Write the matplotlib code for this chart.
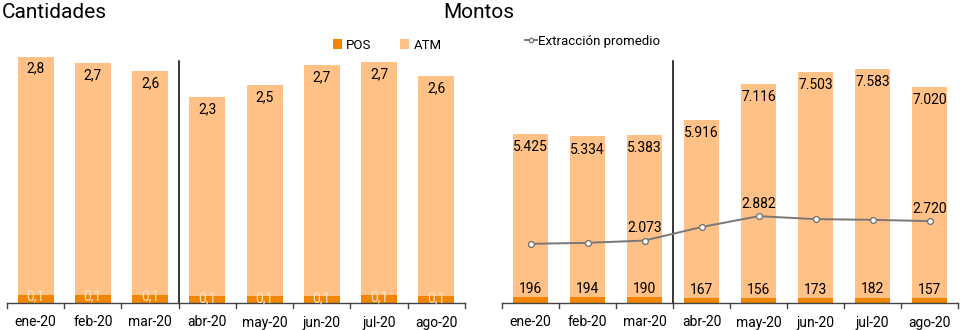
import matplotlib.pyplot as plt
import numpy as np

plt.rcParams['font.family'] = ['Roboto', 'DejaVu Sans']

# data
meses = ['ene-20', 'feb-20', 'mar-20', 'abr-20', 'may-20', 'jun-20', 'jul-20', 'ago-20']

# Cantidades (heights estimated, labels rounded)
cant_atm = [2.80, 2.72, 2.63, 2.34, 2.48, 2.72, 2.74, 2.59]
cant_pos = [0.10, 0.10, 0.10, 0.08, 0.08, 0.08, 0.09, 0.08]

# Montos
mont_atm = [5425, 5334, 5383, 5916, 7116, 7503, 7583, 7020]
mont_pos = [196, 194, 190, 167, 156, 173, 182, 157]
extraccion = [1965, 1998, 2073, 2522, 2882, 2784, 2761, 2720]
extraccion_lbl = [False, False, True, False, True, False, False, True]

C_ATM = '#FFC185'
C_POS = '#F28500'
FS = 10

fig = plt.figure(figsize=(9.66, 3.3), dpi=100)
W, H = 966, 330


def make_ax(x0, x1, y_top, y_base):
    return fig.add_axes([x0 / W, (H - y_base) / H, (x1 - x0) / W, (y_base - y_top) / H])


def style_ax(ax):
    for s in ['top', 'right', 'left']:
        ax.spines[s].set_visible(False)
    ax.spines['bottom'].set_color('#444444')
    ax.spines['bottom'].set_linewidth(1.0)
    ax.set_yticks([])
    ax.set_xlim(-0.5, len(meses) - 0.5)
    ax.set_xticks(np.arange(len(meses)))
    ax.set_xticklabels(meses, fontsize=FS)
    ax.tick_params(axis='x', length=0, pad=9)
    # small tick marks at category boundaries
    for b in np.arange(-0.5, len(meses), 1.0):
        ax.plot([b, b], [0, -0.018], transform=ax.get_xaxis_transform(),
                color='#444444', lw=1.0, clip_on=False)
    ax.axvline(2.5, ymin=0, ymax=0.92, color='black', lw=1.1)


x = np.arange(len(meses))
bw = 0.63

# ---------------- Cantidades ----------------
ax1 = make_ax(7, 465, 40, 303)
ax1.bar(x, cant_pos, bw, color=C_POS, label='POS', zorder=2)
ax1.bar(x, cant_atm, bw, bottom=cant_pos, color=C_ATM, label='ATM', zorder=2)
ax1.set_ylim(0, 263 / 85.0)
style_ax(ax1)
for i in range(len(meses)):
    top = cant_pos[i] + cant_atm[i]
    ax1.text(x[i], top - 0.06, f'{cant_atm[i]:.1f}'.replace('.', ','),
             ha='center', va='top', fontsize=FS, color='black', zorder=3)
    ax1.text(x[i], cant_pos[i] - 0.02, f'{cant_pos[i]:.1f}'.replace('.', ','),
             ha='center', va='center', fontsize=FS, color='#FFE3C4', zorder=3)
ax1.legend(loc='upper left', bbox_to_anchor=(0.685, 1.05), ncol=2, frameon=False,
           fontsize=FS - 0.5, handlelength=0.7, handleheight=0.7,
           handletextpad=0.3, columnspacing=2.2)

# ---------------- Montos ----------------
ax2 = make_ax(502, 958, 40, 303)
ax2.bar(x, mont_pos, bw, color=C_POS, zorder=2)
ax2.bar(x, mont_atm, bw, bottom=mont_pos, color=C_ATM, zorder=2)
ax2.plot(x, extraccion, color='#777777', lw=1.4, marker='o', ms=4.2,
         mfc='white', mec='#777777', mew=1.0, label='Extracción promedio', zorder=4)
ax2.set_ylim(0, 263 * 33.2)
style_ax(ax2)
for i in range(len(meses)):
    top = mont_pos[i] + mont_atm[i]
    ax2.text(x[i], top - 200, f'{mont_atm[i]:,}'.replace(',', '.'),
             ha='center', va='top', fontsize=FS, color='black', zorder=3)
    ax2.text(x[i], mont_pos[i] + 40, f'{mont_pos[i]}',
             ha='center', va='bottom', fontsize=FS, color='black', zorder=3)
    if extraccion_lbl[i]:
        ax2.text(x[i], extraccion[i] + 180, f'{extraccion[i]:,}'.replace(',', '.'),
                 ha='center', va='bottom', fontsize=FS, color='black', zorder=5)
ax2.legend(loc='upper left', bbox_to_anchor=(0.025, 1.065), frameon=False,
           fontsize=FS - 0.5, handlelength=0.9, handletextpad=0.1,
           markerscale=0.75)

fig.text(2 / W, 1 - 12 / H, 'Cantidades', fontsize=15, ha='left', va='center')
fig.text(443 / W, 1 - 12 / H, 'Montos', fontsize=15, ha='left', va='center')

fig.savefig('out.png', dpi=100)
